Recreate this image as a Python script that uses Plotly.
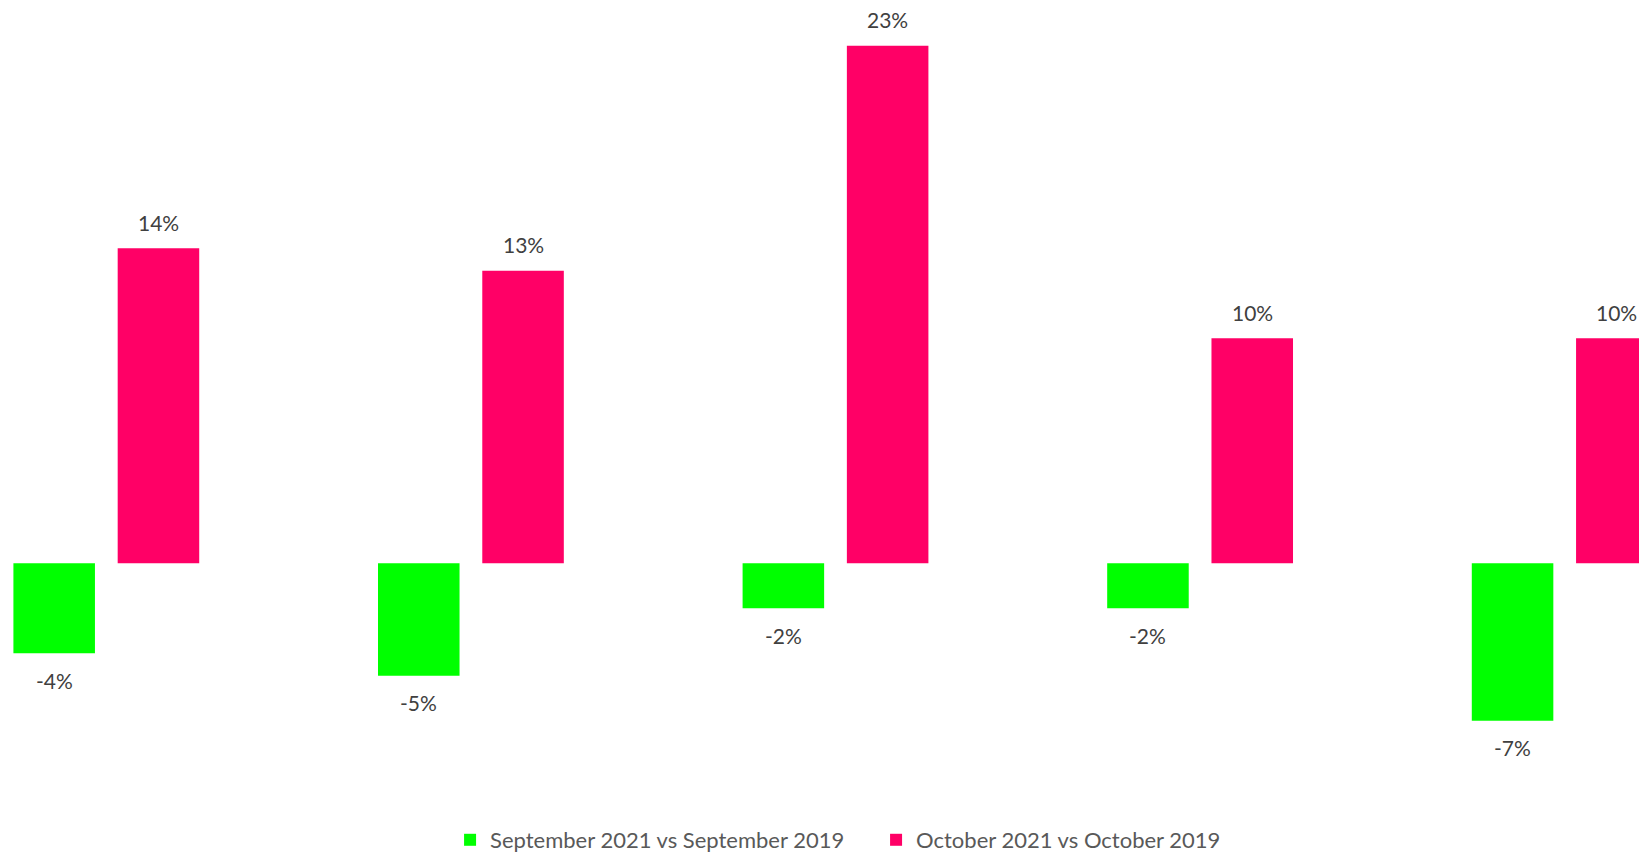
import plotly.graph_objects as go

categories = ["Group 1", "Group 2", "Group 3", "Group 4", "Group 5"]
series_names = ["September 2021 vs September 2019", "October 2021 vs October 2019"]
sep_values = [-4, -5, -2, -2, -7]
oct_values = [14, 13, 23, 10, 10]
series_values = [sep_values, oct_values]
colors = ["#00FF00", "#FF0066"]

BARGAP = 0.428
GROUPGAP = 0.218
FONT = "Lato, 'Open Sans', sans-serif"

fig = go.Figure()
for name, vals, col in zip(series_names, series_values, colors):
    fig.add_trace(go.Bar(
        x=categories, y=vals, name=name,
        marker=dict(color=col, line=dict(width=0)),
        hovertemplate="%{y}%<extra>" + name + "</extra>",
    ))

# data labels, placed relative to each bar via the axis scales
n_series = len(series_values)
slot = (1 - BARGAP) / n_series
annotations = []
for k, vals in enumerate(series_values):
    off = -(1 - BARGAP) / 2 + slot * (k + 0.5)
    for i, v in enumerate(vals):
        annotations.append(dict(
            x=i + off, y=v, xref="x", yref="y",
            text=f"{v}%", showarrow=False,
            yshift=26 if v >= 0 else -27,
            font=dict(family=FONT, size=21, color="#404040"),
        ))

fig.update_layout(
    width=1639, height=852,
    margin=dict(l=0, r=0, t=0, b=92),
    paper_bgcolor="white", plot_bgcolor="white",
    barmode="group", bargap=BARGAP, bargroupgap=GROUPGAP,
    annotations=annotations,
    showlegend=True,
    legend=dict(
        orientation="h",
        xref="container", yref="container",
        x=0.2746, xanchor="left", y=0.0141, yanchor="middle",
        entrywidth=381, entrywidthmode="pixels",
        font=dict(family=FONT, size=22, color="#595959"),
        traceorder="normal",
    ),
    font=dict(family=FONT),
)
fig.update_xaxes(range=[-0.2916, 4.2038], showticklabels=False, showgrid=False,
                 zeroline=False, showline=False, ticks="")
fig.update_yaxes(range=[-8.742, 25.036], showticklabels=False, showgrid=False,
                 zeroline=False, showline=False, ticks="")

fig.write_html("out.html", config={"displayModeBar": False},
               post_script="document.body.style.margin='0';")
